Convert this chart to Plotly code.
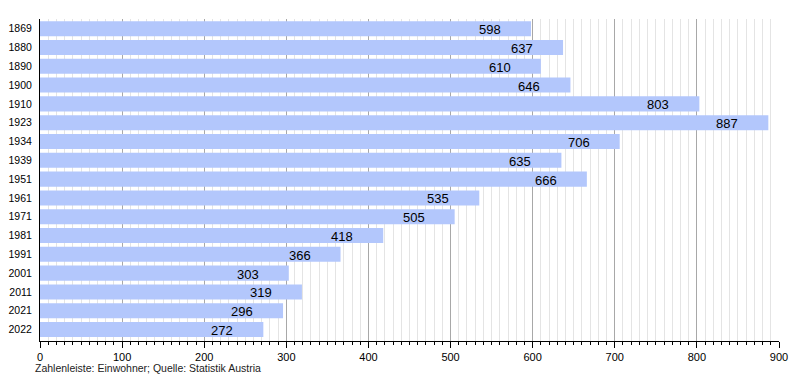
import plotly.graph_objects as go

years = ["1869", "1880", "1890", "1900", "1910", "1923", "1934", "1939", "1951",
         "1961", "1971", "1981", "1991", "2001", "2011", "2021", "2022"]
population = [598, 637, 610, 646, 803, 887, 706, 635, 666,
              535, 505, 418, 366, 303, 319, 296, 272]
x_ticks = [0, 100, 200, 300, 400, 500, 600, 700, 800, 900]
footnote = "Zahlenleiste: Einwohner; Quelle: Statistik Austria"

FONT = "Liberation Sans, Arial, sans-serif"

fig = go.Figure()
fig.add_trace(go.Bar(
    x=population, y=years, orientation="h",
    marker=dict(color="rgb(179,199,252)", line=dict(width=0)),
    hoverinfo="x+y",
))

for i, v in enumerate(population):
    fig.add_annotation(x=v, y=i, xref="x", yref="y", text=str(v), showarrow=False,
                       xanchor="right", yanchor="middle", xshift=-28, yshift=-1,
                       font=dict(family=FONT, size=13, color="#000"))

fig.add_annotation(xref="paper", yref="paper", x=0, y=-0.085, text=footnote,
                   showarrow=False, xanchor="left", yanchor="middle", xshift=-7,
                   font=dict(family=FONT, size=10.5, color="#222"))

fig.update_layout(
    width=800, height=380,
    margin=dict(l=32, r=29, t=10.5, b=47.3, autoexpand=False),
    plot_bgcolor="white", paper_bgcolor="white",
    bargap=0.2, showlegend=False,
    font=dict(family=FONT, size=11, color="#000"),
    xaxis=dict(
        range=[0, 900], tickvals=x_ticks, ticks="outside", ticklen=6, tickwidth=1,
        tickcolor="#000", showline=True, linecolor="#000", linewidth=1,
        showgrid=True, gridcolor="#a8a8a8", gridwidth=1, zeroline=False,
        automargin=False,
        minor=dict(dtick=10, ticks="outside", ticklen=3, tickcolor="#000",
                   showgrid=True, gridcolor="#e4e4e4", gridwidth=1),
        tickfont=dict(size=11, color="#000"),
    ),
    yaxis=dict(
        type="category", categoryorder="array", categoryarray=years,
        range=[16.61, -0.515], showline=True, linecolor="#000", linewidth=1,
        ticks="", showgrid=False, zeroline=False, ticklabelstandoff=5,
        automargin=False,
        tickfont=dict(size=10.5, color="#000"),
    ),
)

fig.write_html("out.html")
